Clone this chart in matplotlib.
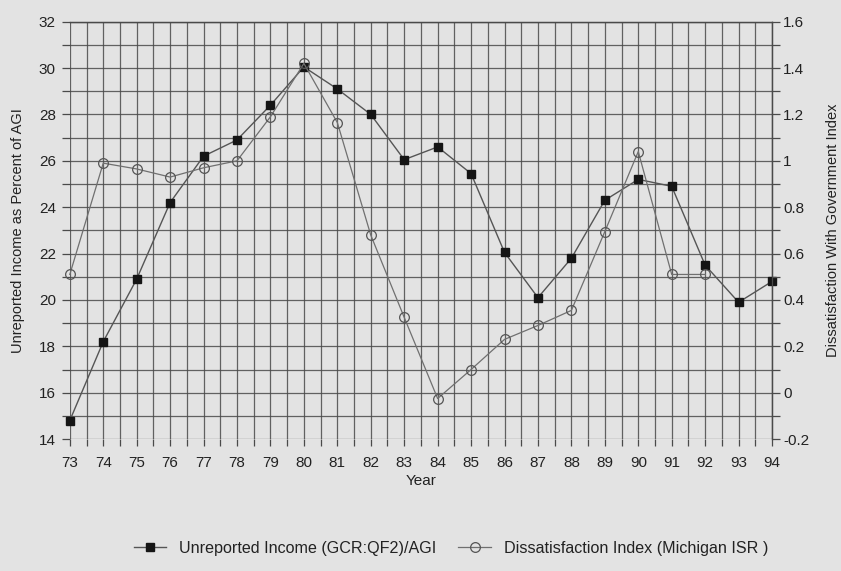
import numpy as np
import matplotlib.pyplot as plt
from matplotlib.ticker import MultipleLocator

plt.rcParams['font.family'] = ['Liberation Sans', 'DejaVu Sans']

# data
years = [73, 74, 75, 76, 77, 78, 79, 80, 81, 82, 83, 84, 85, 86, 87, 88, 89, 90, 91, 92, 93, 94]
unreported = [14.8, 18.2, 20.9, 24.2, 26.2, 26.9, 28.4, 30.05, 29.1, 28.0, 26.05, 26.6,
              25.45, 22.05, 20.1, 21.8, 24.3, 25.2, 24.9, 21.5, 19.9, 20.8]
diss_years = years[:20]
dissatisfaction = [0.51, 0.99, 0.965, 0.93, 0.97, 1.0, 1.19, 1.42, 1.165, 0.68, 0.325, -0.025,
                   0.10, 0.23, 0.29, 0.355, 0.695, 1.04, 0.51, 0.51]

bg = '#e3e3e3'
grid_c = '#4a4a4a'
text_c = '#222222'

fig = plt.figure(figsize=(8.41, 5.71), dpi=100, facecolor=bg)
ax = fig.add_axes([0.083, 0.231, 0.835, 0.731])
ax.set_facecolor(bg)
ax2 = ax.twinx()

ax.set_xlim(73, 94)
ax.set_ylim(14, 32)
ax2.set_ylim(-0.2, 1.6)

ax.xaxis.set_major_locator(MultipleLocator(1))
ax.xaxis.set_minor_locator(MultipleLocator(0.5))
ax.yaxis.set_major_locator(MultipleLocator(2))
ax.yaxis.set_minor_locator(MultipleLocator(1))
ax2.yaxis.set_major_locator(MultipleLocator(0.2))
ax2.yaxis.set_minor_locator(MultipleLocator(0.1))

ax.grid(True, which='both', color=grid_c, linewidth=0.9, alpha=0.85)
ax.set_axisbelow(True)

ax.tick_params(which='both', length=6, width=0.9, color=grid_c, labelsize=11,
               labelcolor=text_c, pad=4)
ax.tick_params(axis='x', which='both', length=5, pad=7)
ax2.tick_params(which='both', length=6, width=0.9, color=grid_c, labelsize=11,
                labelcolor=text_c, pad=2)

ax.set_yticks(range(14, 33, 2))
ax.set_yticklabels([str(v) for v in range(14, 33, 2)])
rticks = np.round(np.arange(-0.2, 1.61, 0.2), 1)
ax2.set_yticks(rticks)
ax2.set_yticklabels(['0' if v == 0 else ('1' if v == 1 else f'{v:g}') for v in rticks])

for a in (ax, ax2):
    for s in a.spines.values():
        s.set_color(grid_c)
        s.set_linewidth(0.9)
    a.spines['left'].set_visible(False)
    a.spines['bottom'].set_visible(False)

l1, = ax.plot(years, unreported, color='#555555', linewidth=1.0, marker='s',
              markersize=6, markerfacecolor='#151515', markeredgecolor='#151515',
              label='Unreported Income (GCR:QF2)/AGI', zorder=3, clip_on=False)
l2, = ax2.plot(diss_years, dissatisfaction, color='#707070', linewidth=0.9, marker='o',
               markersize=7, markerfacecolor='none', markeredgecolor='#555555',
               markeredgewidth=0.9, label='Dissatisfaction Index (Michigan ISR )', zorder=3,
               clip_on=False)

ax.set_xlabel('Year', fontsize=11, color=text_c, labelpad=3)
ax.set_ylabel('Unreported Income as Percent of AGI', fontsize=10.5, color=text_c, labelpad=10)
ax2.set_ylabel('Dissatisfaction With Government Index', fontsize=10.5, color=text_c, labelpad=12)

fig.legend(handles=[l1, l2], loc='center', bbox_to_anchor=(0.536, 0.04), ncol=2,
           frameon=False, fontsize=11.6, handlelength=2.0, columnspacing=1.4,
           labelcolor=text_c)

plt.savefig('out.png', dpi=100, facecolor=bg)
